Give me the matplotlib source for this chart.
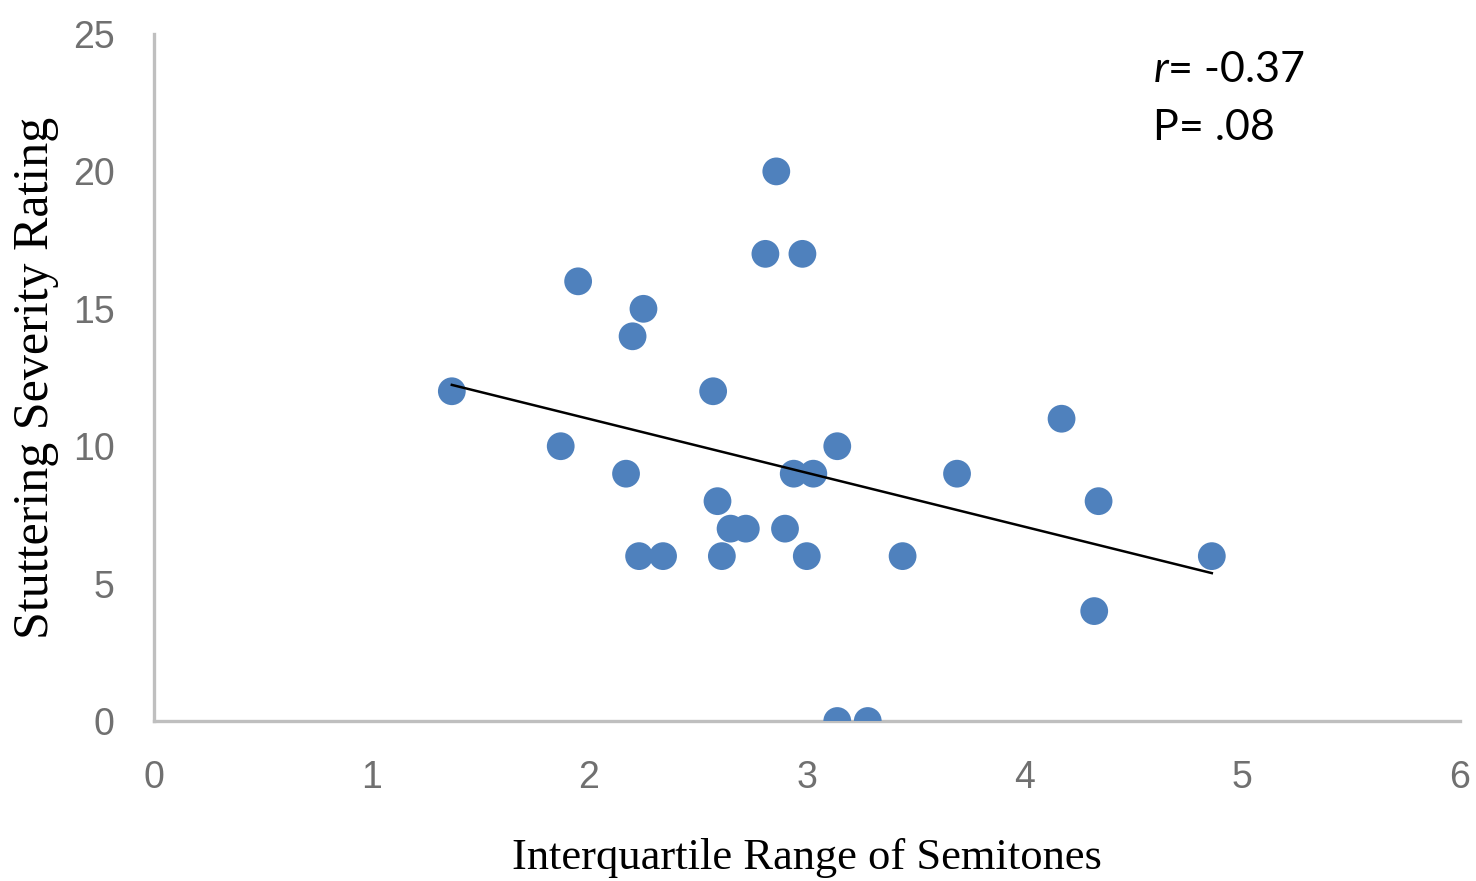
import numpy as np
import matplotlib
matplotlib.use("Agg")
import matplotlib.pyplot as plt

# ---- data: interquartile range of semitones vs stuttering severity ----
iqr_semitones = [1.37, 1.87, 1.95, 2.17, 2.20, 2.23, 2.25, 2.34, 2.57, 2.59,
                 2.61, 2.65, 2.72, 2.81, 2.86, 2.90, 2.94, 2.98, 3.00, 3.03,
                 3.14, 3.14, 3.28, 3.44, 3.69, 4.17, 4.32, 4.34, 4.86]
severity = [12, 10, 16, 9, 14, 6, 15, 6, 12, 8,
            6, 7, 7, 17, 20, 7, 9, 17, 6, 9,
            10, 0, 0, 6, 9, 11, 4, 8, 6]

x_ticks = [0, 1, 2, 3, 4, 5, 6]
y_ticks = [0, 5, 10, 15, 20, 25]
stats_lines = [r"$\mathit{r}$= -0.37", "P= .08"]

plt.rcParams["mathtext.fontset"] = "custom"
plt.rcParams["mathtext.it"] = "Lato:italic"
plt.rcParams["mathtext.rm"] = "Lato"

fig = plt.figure(figsize=(14.76, 8.81), dpi=100)
ax = fig.add_axes([0.104, 0.1816, 0.8852, 0.7798])

x = np.array(iqr_semitones)
y = np.array(severity)

ax.scatter(x, y, s=400, color="#4F81BD", edgecolors="none", zorder=3)

# linear trend line over the data range
slope, intercept = np.polyfit(x, y, 1)
xs = np.array([x.min(), x.max()])
ax.plot(xs, slope * xs + intercept, color="black", lw=1.8, zorder=4)

ax.set_xlim(0, 6)
ax.set_ylim(0, 25)
ax.set_xticks(x_ticks)
ax.set_yticks(y_ticks)

tick_font = dict(family=["Liberation Sans Narrow", "Liberation Sans"], size=27, color="#707070")
ax.set_xticklabels([str(t) for t in x_ticks], **tick_font)
ax.set_yticklabels([str(t) for t in y_ticks], **tick_font)
ax.tick_params(axis="both", length=0)
ax.tick_params(axis="x", pad=28)
ax.tick_params(axis="y", pad=28)

for side in ["top", "right"]:
    ax.spines[side].set_visible(False)
for side in ["left", "bottom"]:
    ax.spines[side].set_color("#BFBFBF")
    ax.spines[side].set_linewidth(2.4)

ax.set_xlabel("Interquartile Range of Semitones", family="Liberation Serif",
              size=32, color="black", labelpad=30)
ax.set_ylabel("Stuttering Severity Rating", family="Liberation Serif",
              size=36, color="black", labelpad=10)

ax.text(0.765, 0.9306, stats_lines[0], transform=ax.transAxes, family="Lato",
        size=31, color="black", va="baseline", ha="left")
ax.text(0.765, 0.8457, stats_lines[1], transform=ax.transAxes, family="Lato",
        size=31, color="black", va="baseline", ha="left")

fig.savefig("out.png", dpi=100)
